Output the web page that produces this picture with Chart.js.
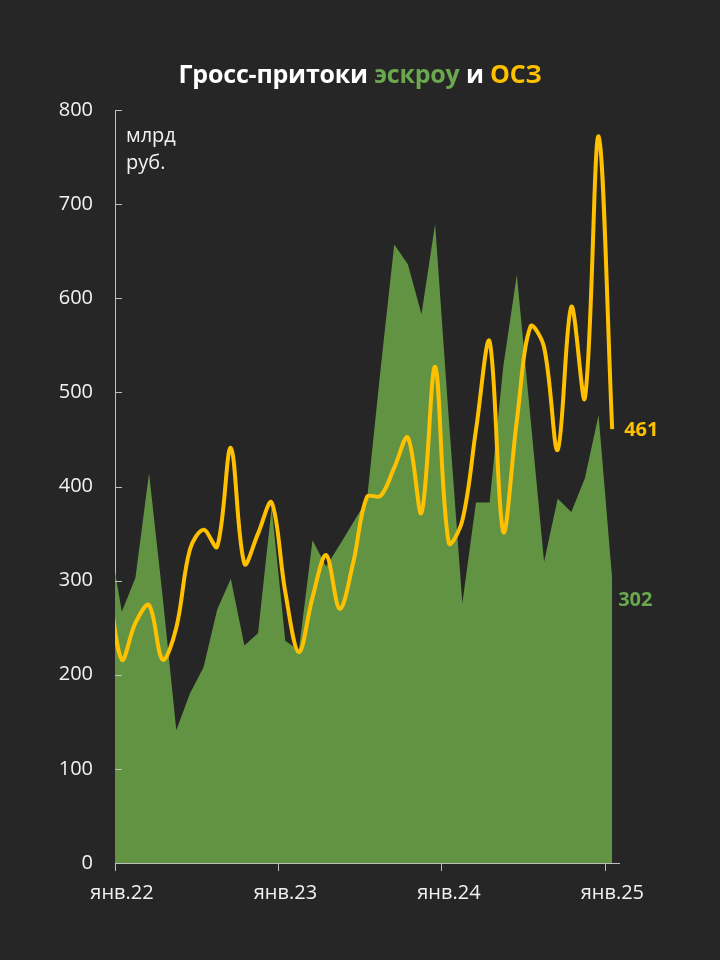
<!DOCTYPE html>
<html>
<head>
<meta charset="utf-8">
<script src="https://cdn.jsdelivr.net/npm/chart.js@4/dist/chart.umd.min.js"></script>
<style>
  html, body { margin: 0; padding: 0; background: #262626; }
  #wrap { position: relative; width: 720px; height: 960px; }
  #title { position: absolute; left: 0; top: 57px; width: 720px; text-align: center; letter-spacing: -0.2px;
           font-family: "Open Sans", sans-serif; font-weight: 700; font-size: 25px; color: #ffffff; line-height: 32px; }
  #unit { position: absolute; left: 126px; top: 121px; font-family: "Open Sans", sans-serif;
          font-size: 20px; line-height: 27px; color: #f2f2f2; }
  canvas { position: absolute; left: 0; top: 0; }
</style>
</head>
<body>
<div id="wrap">
  <canvas id="c" width="720" height="960"></canvas>
  <div id="title">Гросс-притоки <span style="color:#6aa84f">эскроу</span> и <span style="color:#ffc000">ОСЗ</span></div>
  <div id="unit">млрд<br>руб.</div>
</div>
<script>
// Months (Dec 2021 is partly hidden behind the left edge of the axis)
const months = ['дек.21',
  'янв.22','фев.22','мар.22','апр.22','май.22','июн.22','июл.22','авг.22','сен.22','окт.22','ноя.22','дек.22',
  'янв.23','фев.23','мар.23','апр.23','май.23','июн.23','июл.23','авг.23','сен.23','окт.23','ноя.23','дек.23',
  'янв.24','фев.24','мар.24','апр.24','май.24','июн.24','июл.24','авг.24','сен.24','окт.24','ноя.24','дек.24',
  'янв.25'];
// Escrow gross inflows, bn RUB
const escrow = [353,
  267,303,414,283,141,180,208,269,302,231,244,378,
  236,226,343,315,338,362,386,525,657,636,583,679,
  473,276,383,383,527,625,473,320,387,373,409,476,
  302];
// OSZ gross inflows, bn RUB
const osz = [300,
  216,255,274,216,250,333,354,336,441,318,350,383,
  288,224,282,327,270,320,389,390,420,452,372,527,
  340,364,460,554,352,470,570,548,439,591,494,772,
  461];
const tickLabels = ['янв.22','янв.23','янв.24','янв.25'];
const tickMonth = [0, 12, 24, 36];   // month index of each tick (start of January)
const yTicks = [0,100,200,300,400,500,600,700,800];

const FONT = '"Open Sans", sans-serif';
const AXIS = '#bfbfbf';
const TXT = '#f2f2f2';

const toPts = arr => arr.map((v, i) => ({ x: i - 0.5, y: v }));

const innerYTicks = {
  id: 'innerYTicks',
  afterDraw(chart) {
    const { ctx, chartArea, scales } = chart;
    ctx.save();
    ctx.strokeStyle = AXIS;
    ctx.lineWidth = 1;
    yTicks.forEach(v => {
      const y = Math.round(scales.y.getPixelForValue(v)) + 0.5;
      ctx.beginPath();
      ctx.moveTo(chartArea.left, y);
      ctx.lineTo(chartArea.left + 7, y);
      ctx.stroke();
    });
    ctx.restore();
  }
};

const endLabels = {
  id: 'endLabels',
  afterDatasetsDraw(chart) {
    const { ctx, scales } = chart;
    const n = osz.length - 1;
    const x = scales.x.getPixelForValue(n - 0.5);
    ctx.save();
    ctx.font = 'bold 20px ' + FONT;
    ctx.textAlign = 'left';
    ctx.textBaseline = 'middle';
    ctx.fillStyle = '#ffc000';
    ctx.fillText(String(osz[n]), x + 12, scales.y.getPixelForValue(osz[n]) + 1);
    ctx.fillStyle = '#6aa84f';
    ctx.fillText(String(escrow[n]), x + 6, scales.y.getPixelForValue(escrow[n]) + 22);
    ctx.restore();
  }
};

new Chart(document.getElementById('c'), {
  type: 'line',
  data: {
    datasets: [
      {
        label: 'ОСЗ',
        data: toPts(osz),
        borderColor: '#ffc000',
        borderWidth: 4,
        pointRadius: 0,
        tension: 0.35,
        fill: false,
        clip: 0
      },
      {
        label: 'эскроу',
        data: toPts(escrow),
        borderWidth: 0,
        borderColor: 'rgba(0,0,0,0)',
        backgroundColor: '#629343',
        pointRadius: 0,
        tension: 0,
        fill: 'origin',
        clip: 0
      }
    ]
  },
  options: {
    responsive: false,
    animation: false,
    devicePixelRatio: 1,
    layout: { padding: { top: 110, right: 101, left: 0, bottom: 0 } },
    plugins: { legend: { display: false }, tooltip: { enabled: false }, title: { display: false } },
    scales: {
      x: {
        type: 'linear',
        min: 0,
        max: 37,
        afterBuildTicks(scale) { scale.ticks = tickMonth.map(v => ({ value: v })); },
        afterFit(scale) { scale.height = 97; },
        ticks: {
          callback: (v, i) => tickLabels[i],
          color: TXT,
          font: { family: FONT, size: 20 },
          padding: 10,
          labelOffset: 7,
          maxRotation: 0,
          autoSkip: false
        },
        grid: { display: true, drawOnChartArea: false, drawTicks: true, tickLength: 8, color: AXIS, lineWidth: 1 },
        border: { display: true, color: AXIS, width: 1 }
      },
      y: {
        min: 0,
        max: 800,
        afterBuildTicks(scale) { scale.ticks = yTicks.map(v => ({ value: v })); },
        afterFit(scale) { scale.width = 115; },
        ticks: {
          color: TXT,
          font: { family: FONT, size: 20 },
          padding: 22
        },
        grid: { display: false, drawTicks: false },
        border: { display: true, color: AXIS, width: 1 }
      }
    }
  },
  plugins: [innerYTicks, endLabels]
});
</script>
</body>
</html>
